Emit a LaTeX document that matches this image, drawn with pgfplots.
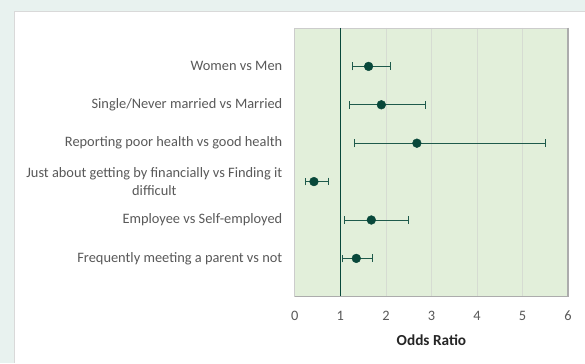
\documentclass[border=0pt]{standalone}
\usepackage{pgfplots}
\pgfplotsset{compat=1.18}
\usepackage{fontspec}
\setmainfont{Carlito}
\definecolor{outerbg}{RGB}{232,242,239}
\definecolor{plotbg}{RGB}{226,239,218}
\definecolor{darkteal}{RGB}{8,72,58}
\definecolor{barteal}{RGB}{30,90,75}
\definecolor{labelgray}{RGB}{89,89,89}
\definecolor{gridgray}{RGB}{214,220,210}
\pgfplotstableread{
pos or ep em
1 1.62 0.48 0.36
2 1.90 0.97 0.69
3 2.68 2.82 1.36
4 0.42 0.32 0.19
5 1.68 0.82 0.58
6 1.35 0.36 0.30
}\ordata
\begin{document}
\begin{tikzpicture}[x=1pt,y=1pt]
\fill[outerbg] (0,0) rectangle (585,363);
\fill[white] (14,0) rectangle (585,352);
\draw[gray!30, line width=0.8pt] (14,0) -- (14,352) -- (585,352);
\begin{axis}[
  at={(295pt,66pt)}, anchor=south west,
  scale only axis, width=273.5pt, height=269pt,
  xmin=0, xmax=6, ymin=0, ymax=7, y dir=reverse,
  xtick={0,1,2,3,4,5,6}, ytick={1,2,3,4,5,6},
  yticklabels={Women vs Men, Single/Never married vs Married, Reporting poor health vs good health, {Just about getting by financially vs Finding it\\difficult}, Employee vs Self-employed, Frequently meeting a parent vs not},
  major tick length=0,
  xmajorgrids, grid style={draw=gridgray, line width=0.8pt},
  axis background/.style={fill=plotbg},
  axis line style={draw=gray!40, line width=0.8pt},
  /pgf/number format/assume math mode=true,
  tick label style={font=\fontsize{14.4}{17.5}\selectfont, text=labelgray},
  xticklabel style={yshift=-10.5pt},
  yticklabel style={align=center, xshift=-9pt},
  xlabel={\textbf{Odds Ratio}},
  xlabel style={font=\fontsize{15.3}{18}\selectfont, text=black!85, at={(rel axis cs:0.5,0)}, anchor=center, yshift=-43.7pt},
  clip=false,
]
\addplot[darkteal, line width=1.6pt] coordinates {(1,0) (1,7)};
\addplot[only marks, mark=*, mark size=4.4pt, color=darkteal,
  error bars/.cd, x dir=both, x explicit, error mark=|,
  error bar style={line width=0.9pt, color=barteal},
  error mark options={mark size=3.9pt, line width=0.9pt, color=barteal}]
  table[x=or, y=pos, x error plus=ep, x error minus=em] {\ordata};
\draw[gray!65, line width=1.3pt] (rel axis cs:1,1) -- (rel axis cs:1,0) -- (rel axis cs:0,0);
\end{axis}
\end{tikzpicture}
\end{document}
